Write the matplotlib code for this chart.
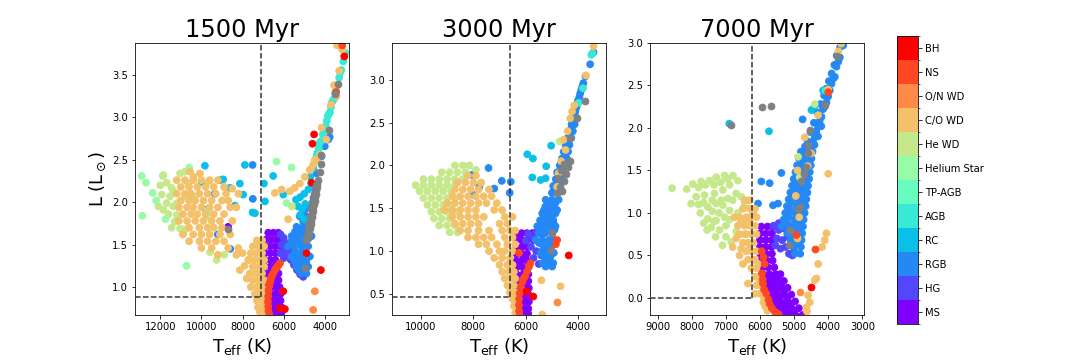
import numpy as np
import matplotlib
matplotlib.use('Agg')
import matplotlib.pyplot as plt
from matplotlib.colors import ListedColormap, BoundaryNorm
from matplotlib.cm import ScalarMappable

stage_labels = ['MS', 'HG', 'RGB', 'RC', 'AGB', 'TP-AGB', 'Helium Star',
                'He WD', 'C/O WD', 'O/N WD', 'NS', 'BH']
ages = ['1500 Myr', '3000 Myr', '7000 Myr']

# cut lines (Teff, L) for each panel
cuts = [(7120, 0.88), (6610, 0.46), (6220, 0.0)]
xlims = [(13230, 2830), (11100, 2940), (9220, 2950)]
ylims = [(0.67, 3.88), (0.255, 3.43), (-0.2, 3.0)]

# ---------------- Panel 1 : 1500 Myr ----------------
p1_ms = [(6750,1.64),(6500,1.64),(6260,1.64),
         (6850,1.56),(6600,1.56),(6350,1.56),(6150,1.56),
         (6900,1.48),(6650,1.48),(6400,1.48),(6150,1.48),
         (6920,1.40),(6650,1.40),(6400,1.40),(6150,1.40),
         (6920,1.32),(6650,1.32),(6400,1.32),
         (6920,1.24),(6650,1.24),(6450,1.24),
         (6920,1.16),(6700,1.16),(6450,1.16),(6250,1.16),
         (6920,1.08),(6700,1.08),(6450,1.08),(6250,1.08),
         (6920,1.00),(6600,1.00),(6400,1.00),(6200,1.00),
         (6920,0.92),(6600,0.92),(6350,0.92),(6150,0.92),
         (6900,0.84),(6550,0.84),(6350,0.84),(6150,0.84),
         (6880,0.76),(6500,0.76),(6300,0.76),(6100,0.76),
         (6850,0.70),(6450,0.70),(6250,0.70),(6100,0.70),(8700,1.71)]
p1_hg = [(6150,1.62),(6000,1.58),(6100,1.50),(5900,1.52),(5950,1.44),(5750,1.45),
         (5800,1.38),(5600,1.40),(5650,1.32),(5450,1.34),(5500,1.26),(5300,1.28),
         (5350,1.20),(5150,1.22),(5200,1.15),(5000,1.17),(5050,1.12),(6150,1.40),
         (6000,1.34)]
p1_rgb = [(5210,1.83),(4890,1.83),(4650,1.83),(5375,1.71),(5050,1.71),(4725,1.71),
          (5615,1.60),(5290,1.60),(4970,1.60),(4645,1.60),(5780,1.48),(5455,1.48),
          (5130,1.48),(4810,1.48),(5615,1.36),(5290,1.36),(4970,1.36),(4725,1.36),
          (5375,1.24),(5050,1.24),(4810,1.24),(5130,1.16),(4890,1.16),
          (5500,1.55),(5200,1.40),(4900,1.30),(5000,1.90),(4800,1.78),
          (5050,1.77),(5200,1.65),(5450,1.65),(4850,1.66),(5620,1.54),(5300,1.54),
          (5000,1.54),(5450,1.42),(5100,1.42),(5450,1.30),(5200,1.30),(5250,1.20),
          (4700,1.95),(4550,2.05),(4450,2.15),(4400,2.34),(4160,2.54),(4000,2.66),
          (3830,2.74),(3760,2.77),
          (9350,2.10),(9200,1.62),(8600,1.45),(7500,2.04),(7510,2.44),(9780,1.91)]
p1_rc = [(9830,2.43),(7885,2.44),(9100,2.26),(8940,2.27),(8610,2.17),(8130,2.22),
         (7970,2.09),(8370,1.96),(6960,2.22),(6910,2.01),(6510,2.31),(7510,1.88),
         (9990,2.24),(7400,1.87),(6020,2.09),
         (5400,2.03),(5200,2.06),(5000,2.10),(4800,2.15),(4650,2.22),(5300,1.95),
         (5100,1.92),(4950,1.98),(5200,1.85),(5000,1.80),(4700,2.30),(4550,2.40),
         (4450,2.50),(4350,2.58),(4250,2.65)]
p1_agb = [(4400,2.55),(4300,2.63),(4200,2.72),(4100,2.80),(4000,2.88),(3900,2.96),
          (3800,3.04),(3700,3.12),(3600,3.20),(3500,3.29),(3400,3.38),(3300,3.47),
          (3200,3.56),(3100,3.66),(3000,3.76),
          (4250,2.70),(4050,2.86),(3850,3.02),(3650,3.18),(3450,3.35),(3250,3.53),
          (3050,3.72),(3950,2.90),(3750,3.06),(3550,3.22)]
p1_tpagb = []
p1_hestar = [(12900,2.31),(12690,2.23),(12370,2.11),(12870,1.84),(11880,2.31),
             (10590,2.41),(10720,1.25),(9710,1.90),(6350,2.48),(5620,2.41),(5860,1.99),
             (12200,2.02),(11750,1.80)]
p1_hewd = [(11850,2.32),(11690,2.23),(11450,2.17),(11040,2.34),(10800,2.36),
           (11930,2.09),(11690,1.99),(11370,1.95),(11200,1.85),(11040,1.69),
           (10800,1.68),(11290,1.77),(10800,2.07),(10390,2.07),(9660,2.24),
           (9580,1.41),(9260,1.32),(8890,1.38),(9750,1.83),(10880,1.64),
           (11370,2.13),(11530,2.07),(11200,1.99),(10640,2.22),(12090,1.95),
           (11850,1.91),(5600,1.95),(11600,1.86),(11450,1.70),(12000,2.20)]
p1_cowd = [(10550,2.36),(10070,2.34),(10390,2.30),
           (11200,2.26),(10800,2.26),(10400,2.26),(10000,2.26),(9600,2.26),(9200,2.26),
           (11000,2.18),(10600,2.18),(10200,2.18),(9800,2.18),(9400,2.18),(8900,2.18),(8500,2.16),
           (11200,2.10),(10800,2.10),(10500,2.10),(10100,2.10),(9700,2.10),(9300,2.10),(8800,2.10),(8200,2.10),
           (11000,2.02),(10600,2.02),(10300,2.02),(9900,2.02),(9500,2.02),(9000,2.02),(8700,2.02),
           (11100,1.94),(10700,1.94),(10400,1.94),(10000,1.94),(9600,1.94),(9200,1.94),(8600,1.94),(8300,1.94),
           (10900,1.86),(10500,1.86),(10200,1.86),(9800,1.86),(9400,1.86),(8900,1.86),
           (11100,1.78),(10700,1.78),(10300,1.78),(9900,1.78),(9500,1.78),(9100,1.78),(8500,1.78),
           (10600,1.70),(10100,1.70),(9700,1.70),(9400,1.70),(9000,1.70),
           (10900,1.62),(10400,1.62),(10000,1.62),(9600,1.62),(9100,1.62),(8600,1.62),
           (10600,1.54),(10100,1.54),(9700,1.54),(9300,1.54),(8900,1.54),
           (10000,1.46),(9500,1.46),(8700,1.46),(9200,1.38),(8300,1.38),
           (8210,1.46),(7720,1.32),(8130,1.20),(7900,1.25),(7800,1.10),(8000,1.40),
           (7300,1.55),(7050,1.55),(7500,1.48),(7200,1.48),(6950,1.48),(7600,1.40),(7300,1.40),
           (7050,1.40),(7700,1.32),(7400,1.32),(7100,1.32),(6950,1.32),(7500,1.24),(7200,1.24),
           (6950,1.24),(7650,1.16),(7350,1.16),(7050,1.16),(7500,1.08),(7200,1.08),(6950,1.08),
           (7600,1.00),(7300,1.00),(7050,1.00),(7400,0.92),(7150,0.92),(6950,0.92),(7300,0.84),
           (7050,0.84),(7250,0.76),(7000,0.76),(7150,0.70),(6950,0.70),
           (6430,2.11),(6100,2.15),(5700,2.13),(5460,2.17),(5210,2.22),(4970,2.30),(4730,2.38),
           (4570,2.44),(4400,2.50),(4240,2.56),(5780,1.80),(4650,2.40),(4485,2.50),
           (4160,2.88),(3920,2.74),(3700,3.15),(3550,3.38),(3430,3.25),(3300,3.55),
           (3400,3.85),(3200,3.86),(3150,3.80)]
p1_onwd = [(4485,0.95),(4565,0.73)]
p1_ns = [(6180,1.28),(6300,1.24),(6425,1.20),(6510,1.16),(6590,1.13),(6650,1.07),
         (6700,1.01),(6730,0.95),(6750,0.89),(6760,0.83),(6750,0.77),(6740,0.72),
         (6700,0.68),(6250,1.26),(6370,1.22),(6550,1.14),(6620,1.10),(6680,1.04),
         (3150,3.85),(3450,3.30)]
p1_bh = [(4520,2.80),(4600,2.69),(4650,2.23),(4190,1.20),(6020,0.95),(6185,0.75),
         (5940,0.74),(4890,1.40),(3050,3.72)]
p1_other = [(8700,1.69),(4970,1.22),(3350,3.40),(3510,3.28),(3800,2.85),(4160,2.56),
            (4240,2.36),(4200,2.45),
            (4330,2.26),(4360,2.22),(4390,2.18),(4420,2.14),(4450,2.10),(4480,2.06),
            (4500,2.02),(4530,1.98),(4560,1.94),(4580,1.90),(4610,1.86),(4640,1.82),
            (4660,1.78),(4690,1.74),(4720,1.70),(4750,1.66),(4780,1.62),(4810,1.58),
            (4450,2.20),(4520,2.10),(4600,2.00),(4650,1.92),(4700,1.84),(4770,1.76),
            (4830,1.68),(4880,1.60),(4900,1.55)]

# ---------------- Panel 2 : 3000 Myr ----------------
p2_ms = [(6350,1.21),(6150,1.21),(5950,1.21),(5750,1.21),
         (6350,1.13),(6150,1.13),(5950,1.13),(5700,1.13),
         (6350,1.05),(6150,1.05),(5950,1.05),(6350,0.97),(6150,0.97),(5950,0.97),
         (6350,0.89),(6150,0.89),(5950,0.89),(6350,0.81),(6100,0.81),(5900,0.81),
         (6350,0.73),(6100,0.73),(5900,0.73),(6350,0.65),(6080,0.65),(5900,0.65),
         (6350,0.57),(6050,0.57),(5880,0.57),(6330,0.49),(6050,0.49),(5880,0.49),
         (6320,0.41),(6050,0.41),(5880,0.41),(6300,0.33),(6050,0.33),(5900,0.33),
         (6300,0.27),(6050,0.27),(5900,0.27),(6250,1.17),(6050,1.09),(6250,1.01),
         (6050,0.93),(6250,0.85),(6000,0.77),(6250,0.69),(6000,0.61),(5980,0.45)]
p2_hg = [(5900,1.20),(5700,1.15),(5500,1.10),(5300,1.02),(5800,1.05),(5600,1.00),
         (5400,0.95),(5250,0.88),(5500,0.85),(5700,0.92),(6000,1.12),(5350,1.20),
         (5200,0.95),(5600,1.22)]
p2_rgb = [(5240,1.60),(4990,1.60),(4740,1.60),(5370,1.44),(5115,1.44),(4860,1.44),
          (5560,1.29),(5305,1.29),(5050,1.29),(4860,1.29),(5620,1.13),(5370,1.13),
          (5115,1.13),(4926,1.13),(5430,0.98),(5180,0.98),(4926,0.98),(5240,0.82),
          (4990,0.82),(5250,1.52),(5000,1.52),(5450,1.36),(5200,1.36),(4950,1.36),
          (5500,1.21),(5250,1.21),(5000,1.21),(5300,1.05),(5050,1.05),(5100,0.90),
          (5100,1.56),(4870,1.56),(5300,1.48),(5050,1.48),(4800,1.48),(5250,1.40),
          (4980,1.40),(5430,1.32),(5180,1.32),(4930,1.32),(5400,1.25),(5150,1.25),
          (4900,1.25),(5450,1.09),(5200,1.09),(4950,1.09),(5350,1.01),(5100,1.01),
          (5300,0.94),(5050,0.94),(5350,0.86),(5100,0.86),(4950,0.86),
          (5000,1.68),(4800,1.68),(4950,1.76),(4700,1.76),(4850,1.84),(4650,1.84),
          (4800,1.92),(4580,1.92),(4700,2.00),(4500,2.00),(4620,2.08),(4430,2.08),
          (4550,2.16),(4380,2.16),(4480,2.24),(4330,2.24),(4400,2.32),(4260,2.32),
          (4330,2.40),(4200,2.40),(4250,2.48),(4130,2.48),(4180,2.56),(4080,2.56),
          (4100,2.64),(4020,2.72),(3950,2.80),(3880,2.88),(3800,2.96),(3720,3.04),
          (4900,1.72),(4750,1.80),(4720,1.88),(4650,1.96),(4560,2.04),(4500,2.12),
          (4440,2.20),(4370,2.28),(4300,2.36),(4250,2.44),(4200,2.52),(4130,2.60),
          (4060,2.68),(4000,2.76),(3920,2.84),(3840,2.92),
          (3540,3.18),(3410,3.32),
          (7418,1.97),(8050,1.89),(7770,1.75),(7200,1.73),(6912,1.82),(6570,1.81),
          (6610,1.68),(8025,1.66)]
p2_rc = [(5028,2.23),(5940,2.13),(5723,2.08),(5218,1.99),(5748,1.86),(5430,1.83),
         (5240,1.85)]
p2_agb = [(3497,3.29),(3813,2.90),(3977,2.73),(3450,3.31)]
p2_tpagb = []
p2_hestar = []
p2_hewd = [(8700,2.00),(8400,2.00),(8150,2.00),(9200,1.92),(8900,1.92),(8600,1.92),(8300,1.92),
           (9900,1.84),(9600,1.84),(9300,1.84),(9000,1.84),(8700,1.84),(8400,1.84),
           (10200,1.77),(9900,1.77),(9600,1.77),(9300,1.77),(9000,1.77),(8700,1.77),
           (10050,1.70),(9750,1.70),(9450,1.70),(9150,1.70),(8850,1.70),
           (9900,1.62),(9600,1.62),(9300,1.62),(9000,1.62),(8700,1.62),
           (9750,1.54),(9450,1.54),(9150,1.54),(8850,1.54),
           (9600,1.46),(9300,1.46),(9000,1.46),(8700,1.46),
           (9500,1.38),(9200,1.38),(8900,1.38),(9300,1.30),(9000,1.30),(8700,1.30),
           (8900,1.22),(8600,1.22),(7900,1.95),(7700,1.80),(4700,2.28)]
p2_cowd = [(8200,1.88),(7900,1.88),(8600,1.80),(8300,1.80),(8000,1.80),(7700,1.80),
           (8700,1.72),(8400,1.72),(8100,1.72),(7800,1.72),(7400,1.72),
           (8800,1.64),(8500,1.64),(8200,1.64),(7900,1.64),(7600,1.64),(7300,1.64),
           (9000,1.56),(8700,1.56),(8400,1.56),(8100,1.56),(7800,1.56),(7500,1.56),(7100,1.56),
           (9100,1.48),(8800,1.48),(8500,1.48),(8200,1.48),(7900,1.48),(7200,1.48),(6900,1.48),
           (8800,1.40),(8500,1.40),(8200,1.40),(7900,1.40),(7600,1.40),(6800,1.40),(6500,1.40),
           (8700,1.32),(8400,1.32),(8100,1.32),(7800,1.32),(7000,1.32),(6700,1.32),
           (8500,1.24),(8200,1.24),(7800,1.24),(7400,1.24),(6900,1.24),(6600,1.24),(6400,1.24),
           (8200,1.16),(7900,1.16),(7600,1.16),(7300,1.16),(6800,1.16),(6500,1.16),
           (7800,1.08),(7500,1.08),(7100,1.08),(6700,1.08),(6400,1.08),
           (7400,1.00),(7000,1.00),(6800,1.00),(6500,1.00),(7200,0.92),(6900,0.92),(6600,0.92),
           (7000,0.84),(6700,0.84),(6500,0.84),(6900,0.76),(6650,0.76),(6450,0.76),
           (6800,0.68),(6550,0.68),(6400,0.68),(5400,0.66),(6700,0.60),(6450,0.60),(4670,0.59),
           (6600,0.52),(6400,0.52),(6500,0.44),(6350,0.44),(6450,0.36),(6400,0.28),(5370,0.26),
           (3410,3.39),(4230,2.63),(4550,2.30),(4480,2.18),(4740,1.91),(4800,1.75),
           (4400,2.40),(4150,2.70),(4650,2.05),(4300,2.55),(3700,3.05)]
p2_onwd = [(4800,0.41)]
p2_ns = [(5875,0.82),(5950,0.76),(6030,0.70),(6130,0.64),(6180,0.58),(6230,0.51),
         (6250,0.44),(6255,0.37),(6250,0.30),(6230,0.25),(5820,0.86),(6100,0.67),
         (4800,1.13),(4850,1.08),(6255,0.98)]
p2_bh = [(4357,0.95),(5964,0.53),(5710,0.47)]
p2_other = [(3725,2.75),(4040,2.55),(4293,2.32),(4550,2.02),(4400,1.98),(4650,1.95),
            (4450,1.90),(4750,1.85),(4550,1.82),(4700,1.75),(4800,1.68),(4600,1.70),
            (4300,2.05),(4990,1.21),(5050,1.01)]

# ---------------- Panel 3 : 7000 Myr ----------------
p3_ms = [(5960,0.84),(5780,0.84),(5620,0.84),(5990,0.76),(5820,0.76),(5650,0.76),
         (6000,0.68),(5830,0.68),(5660,0.68),(6000,0.60),(5830,0.60),(5660,0.60),
         (5990,0.52),(5820,0.52),(5650,0.52),(5970,0.44),(5800,0.44),(5630,0.44),
         (5940,0.36),(5760,0.36),(5580,0.36),
         (5900,0.28),(5720,0.28),(5540,0.28),(5400,0.28),
         (5850,0.20),(5670,0.20),(5480,0.20),(5300,0.20),
         (5780,0.12),(5600,0.12),(5400,0.12),(5190,0.12),
         (5700,0.04),(5500,0.04),(5290,0.04),(5080,0.04),
         (5610,-0.04),(5400,-0.04),(5180,-0.04),(4970,-0.04),
         (5500,-0.12),(5290,-0.12),(5070,-0.12),(4860,-0.12),
         (5400,-0.20),(5180,-0.20),(4960,-0.20),(4750,-0.20),
         (5880,0.24),(5700,0.24),(5500,0.24),(5800,0.16),(5600,0.16),(5380,0.16),
         (5720,0.08),(5520,0.08),(5300,0.08),(5640,0.00),(5430,0.00),(5200,0.00),
         (5550,-0.08),(5340,-0.08),(5120,-0.08),(5450,-0.16),(5240,-0.16),(5020,-0.16)]
p3_hg = [(5600,0.85),(5450,0.80),(5300,0.82),(5500,0.70),(5350,0.68),(5200,0.72),
         (5400,0.58),(5250,0.60),(5100,0.62),(5150,0.52),(5000,0.55),(5050,0.50),
         (5550,0.62),(5450,0.88)]
p3_rgb = [(4800,1.72),(4620,1.72),(4460,1.72),(4860,1.64),(4670,1.64),(4490,1.64),
          (4910,1.56),(4710,1.56),(4510,1.56),(4960,1.48),(4740,1.48),(4540,1.48),
          (5010,1.40),(4780,1.40),(4560,1.40),(5060,1.32),(4820,1.32),(4590,1.32),
          (5110,1.24),(4860,1.24),(4610,1.24),(5160,1.16),(4890,1.16),(4640,1.16),
          (5210,1.08),(4930,1.08),(4660,1.08),(5260,1.00),(4970,1.00),(4690,1.00),
          (5310,0.92),(5000,0.92),(4720,0.92),(5360,0.84),(5040,0.84),(4740,0.84),
          (5200,0.76),(4970,0.76),(4760,0.76),(5100,0.68),(4920,0.68),(4780,0.68),
          (5000,0.60),(4800,0.60),(4980,0.52),(4820,0.52),
          (4740,1.68),(4550,1.68),(4800,1.60),(4600,1.60),(4860,1.52),(4640,1.52),
          (4900,1.44),(4670,1.44),(4940,1.36),(4700,1.36),(4990,1.28),(4730,1.28),
          (5030,1.20),(4760,1.20),(5080,1.12),(4790,1.12),(5120,1.04),(4820,1.04),
          (5160,0.96),(4850,0.96),(5200,0.88),(4870,0.88),(5150,0.80),(4880,0.80),
          (5050,0.72),(4860,0.72),(4950,0.64),(4850,0.64),
          (3560,2.97),(3658,2.83),(3756,2.72),(3805,2.60),(3903,2.52),(3952,2.44),
          (4001,2.37),(4099,2.25),(4197,2.13),(4295,2.01),(4393,1.89),(4491,1.78),
          (4589,1.66),(3700,2.78),(3850,2.58),(4050,2.30),(4250,2.08),(4450,1.84),
          (4150,2.22),(4350,1.96),(4550,1.74),(4300,1.90),(4200,2.02),(4400,1.80),
          (3650,2.95),(3750,2.85),(3820,2.74),(3900,2.64),(3980,2.55),(4060,2.46),
          (4120,2.38),(4220,2.28),(4320,2.18),(4420,2.06),(4520,1.95),(4600,1.84),
          (4680,1.78),
          (5960,1.37),(5372,1.47),(5470,1.11),(5617,1.09),(6058,1.11),(5716,1.35),
          (4750,2.10)]
p3_rc = [(6900,2.05),(5736,1.96),(4491,2.21),(4400,2.25),(4148,2.44)]
p3_agb = [(4099,2.44)]
p3_tpagb = []
p3_hestar = []
p3_hewd = [(8578,1.29),(7970,1.34),(7725,1.37),(7480,1.38),(7284,1.42),(7039,1.44),
           (6794,1.44),(8019,1.11),(7872,1.19),(7627,1.21),(7333,1.23),(7088,1.27),
           (6892,1.33),(6696,1.23),(6549,1.19),(7529,1.07),(7284,1.11),(7088,1.09),
           (6892,1.03),(6647,1.00),(7529,0.93),(7284,0.91),(7039,0.95),(7431,0.83),
           (7186,0.80),(6843,0.66),(7137,1.15),(6941,1.17),(6451,1.11),
           (8150,1.28),(7800,1.30),(7600,1.33),(7350,1.33),(7150,1.36),(6950,1.40),
           (6650,1.38),(7800,1.10),(7650,1.12),(7400,1.15),(7750,1.00),(7400,1.02),
           (7200,1.00),(7650,0.88),(7350,0.90),(7550,0.80),(7300,0.72),(7000,0.85),
           (6900,0.92),(6800,1.15),(7000,0.72),(6700,0.78),(7100,0.62),
           (4883,1.66),(4393,2.28),(4834,1.42)]
p3_cowd = [(6450,1.15),(6300,1.15),(6500,1.05),(6300,1.05),(6150,1.05),
           (6600,0.95),(6400,0.95),(6250,0.95),(6100,0.95),
           (6650,0.85),(6450,0.85),(6300,0.85),(6150,0.85),
           (6600,0.75),(6400,0.75),(6250,0.75),(6100,0.75),
           (6500,0.65),(6350,0.65),(6200,0.65),(6400,0.55),(6250,0.55),(6100,0.55),
           (6350,0.45),(6200,0.45),(6250,0.35),(6100,0.35),(6150,0.25),(6050,0.25),
           (6100,0.15),(5980,0.15),(6000,0.05),(5900,-0.05),(5780,-0.15),(6353,0.17),
           (6750,0.95),(6700,0.70),(6550,0.90),(6550,0.58),(6450,0.75),(6350,0.92),
           (6200,1.00),(6300,0.58),(6150,0.45),(6050,0.40),(6000,0.20),(6150,0.05),
           (5900,0.02),(5850,-0.10),(6600,0.50),(6500,0.40),(6800,0.60),
           (3999,1.46),(4050,0.76),(4100,0.68),(4177,0.60),(4295,0.40),(4344,0.23),
           (4393,0.21),(4589,0.03),(4638,-0.11),(4540,-0.05),(4620,-0.16),
           (4687,1.89),(4295,2.15),(4500,1.70),(4600,1.55),(3700,2.90),(4000,2.45),
           (4900,1.50),(4950,1.20),(4850,0.95),(4900,0.70),(3620,2.99)]
p3_onwd = [(4834,0.07)]
p3_ns = [(5950,0.55),(5900,0.48),(5863,0.40),(5941,0.29),(5920,0.22),(5912,0.17),
         (5880,0.10),(5814,0.05),(5750,-0.02),(5716,-0.07),(5650,-0.12),(5569,-0.16),
         (5450,-0.19),(4932,0.74),(4373,0.57),(3999,2.42)]
p3_bh = [(4491,0.13)]
p3_other = [(6863,2.03),(5932,2.24),(5687,2.26),(5128,0.80),(5157,0.62),(4834,1.07),
            (4785,1.38),(4638,1.54),(4589,1.70),(4589,1.80),(4540,1.97),(4099,2.27),
            (3756,2.84),(4706,1.46),(4882,1.05)]

panels = [
    [p1_ms, p1_hg, p1_rgb, p1_rc, p1_agb, p1_tpagb, p1_hestar, p1_hewd, p1_cowd, p1_onwd, p1_ns, p1_bh, p1_other],
    [p2_ms, p2_hg, p2_rgb, p2_rc, p2_agb, p2_tpagb, p2_hestar, p2_hewd, p2_cowd, p2_onwd, p2_ns, p2_bh, p2_other],
    [p3_ms, p3_hg, p3_rgb, p3_rc, p3_agb, p3_tpagb, p3_hestar, p3_hewd, p3_cowd, p3_onwd, p3_ns, p3_bh, p3_other],
]

n = len(stage_labels)
cmap = ListedColormap(plt.get_cmap('rainbow')(np.linspace(0, 1, n)))
norm = BoundaryNorm(np.arange(-0.5, n + 0.5, 1), n)

fig = plt.figure(figsize=(15, 5), dpi=72)
lefts = [0.125, 0.363, 0.602]
axes = [fig.add_axes([l, 0.125, 0.198, 0.756]) for l in lefts]

for i, ax in enumerate(axes):
    groups = panels[i]
    for k in range(n):
        pts = groups[k]
        if not pts:
            continue
        arr = np.array(pts, dtype=float)
        ax.scatter(arr[:, 0], arr[:, 1], c=np.full(len(arr), k), cmap=cmap, norm=norm,
                   s=45, zorder=2)
    other = np.array(groups[n], dtype=float)
    ax.scatter(other[:, 0], other[:, 1], color='grey', s=45, zorder=3)
    ax.set_xlim(*xlims[i])
    ax.set_ylim(*ylims[i])
    tc, lc = cuts[i]
    ax.plot([xlims[i][0], tc], [lc, lc], ls='--', color='0.2', lw=1.5, zorder=4)
    ax.plot([tc, tc], [lc, ylims[i][1]], ls='--', color='0.2', lw=1.5, zorder=4)
    ax.set_title(ages[i], fontsize=24)
    ax.set_xlabel(r'T$_{\rm eff}$ (K)', fontsize=18)

axes[0].set_ylabel(r'L (L$_\odot$)', fontsize=18)

cax = fig.add_axes([0.8306, 0.1, 0.0194, 0.8])
sm = ScalarMappable(norm=norm, cmap=cmap)
cb = fig.colorbar(sm, cax=cax, ticks=np.arange(n))
cb.ax.set_yticklabels(stage_labels)

fig.savefig('out.png', dpi=72)
